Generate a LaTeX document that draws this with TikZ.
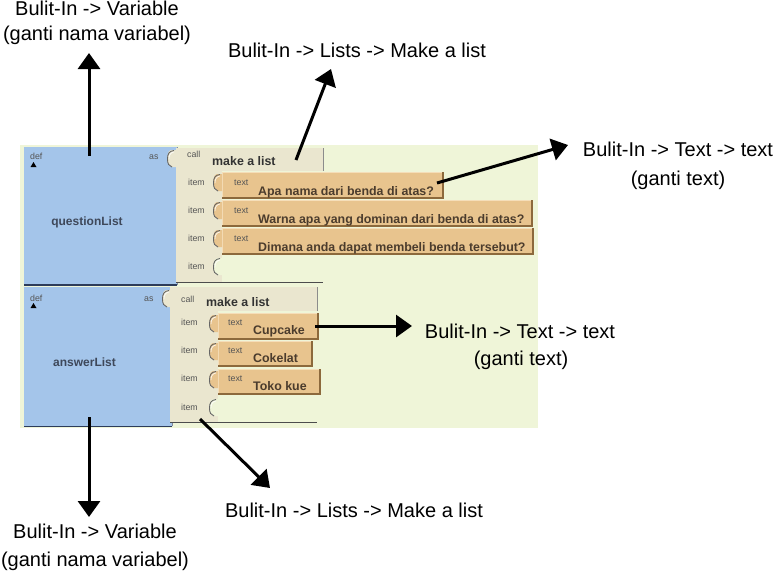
\documentclass[tikz,border=0pt]{standalone}
\usepackage{fontspec}
\setmainfont{Liberation Sans}
\usetikzlibrary{arrows.meta}
\definecolor{bgGreen}{RGB}{239,245,216}
\definecolor{blockBlue}{RGB}{164,197,234}
\definecolor{blueEdge}{RGB}{45,60,90}
\definecolor{beige}{RGB}{234,230,207}
\definecolor{tanFill}{RGB}{232,196,142}
\definecolor{tanEdge}{RGB}{140,105,60}
\definecolor{tanLight}{RGB}{245,222,185}
\definecolor{tanText}{RGB}{75,60,45}
\definecolor{blueText}{RGB}{62,72,90}
\definecolor{smallGray}{RGB}{85,85,85}
\newcommand\sockshape[3]{%
  \fill[#3] (#1+9,#2) -- (#1+4,#2) .. controls (#1+1,#2+1) and (#1+0.5,#2+4) .. (#1+0.5,#2+9)
     .. controls (#1+0.5,#2+14) and (#1+2,#2+16) .. (#1+5,#2+17) -- (#1+9,#2+17) -- cycle;
  \draw[black!60, line width=0.9pt] (#1+7,#2+0.5) .. controls (#1+2,#2+1) and (#1+0.5,#2+4) .. (#1+0.5,#2+9)
     .. controls (#1+0.5,#2+14) and (#1+2,#2+16) .. (#1+5,#2+17);
  \draw[white, line width=0.6pt] (#1+7,#2+2) .. controls (#1+3.5,#2+2.5) and (#1+2,#2+5) .. (#1+2,#2+9);
}
\newcommand\strbox[4]{%
  \fill[tanFill] (#1,#2) rectangle (#3,#4);
  \draw[tanLight, line width=0.8pt] (#1,#4) -- (#1,#2) -- (#3,#2);
  \draw[tanEdge, line width=1.3pt] (#1,#4) -- (#3,#4) -- (#3,#2);
}
\tikzset{
  lbl/.style={font=\fontsize{20}{24}\selectfont, anchor=base, inner sep=0pt},
  bigarrow/.style={line width=3pt, -{Triangle[length=16pt,width=22pt]}},
  small/.style={font=\fontsize{8.8}{10}\selectfont, text=smallGray, anchor=base west, inner sep=0pt},
  strtext/.style={font=\bfseries\fontsize{12.4}{14}\selectfont, text=tanText, anchor=base west, inner sep=0pt},
  calltext/.style={font=\bfseries\fontsize{12.4}{14}\selectfont, text=black!80, anchor=base west, inner sep=0pt},
  varname/.style={font=\bfseries\fontsize{12}{14}\selectfont, text=blueText, anchor=base, inner sep=0pt},
}
\begin{document}
\begin{tikzpicture}[x=1pt,y=-1pt]
\useasboundingbox (0,0) rectangle (776,570);
\fill[white] (0,0) rectangle (776,570);
% workspace background
\fill[bgGreen] (20,145) rectangle (538,428);

% ---------- block 1 ----------
\fill[blockBlue] (24,147) rectangle (177,285);
\draw[blueEdge!60, line width=1pt] (177,147) -- (177,285);
\draw[blueEdge, line width=1.5pt] (24,285) -- (177,285);
\fill[beige] (176,148) rectangle (323,171);
\fill[beige] (176,171) rectangle (222,282);
\draw[black!45, line width=1pt] (323,148) -- (323,171);
\draw[black!70, line width=1.3pt] (176,282.5) -- (323,282.5);
\sockshape{167}{150}{beige}
\fill (30.5,167) -- (36.5,167) -- (33.5,162) -- cycle;
\node[small] (def1) at (30,159) {def};
\node[small] (as1) at (149,159) {as};
\node[small] (call1) at (187,157) {call};
\node[calltext] (mk1) at (212,165) {make a list};
\node[varname] (qvar) at (87,225) {questionList};
\strbox{222}{172}{443}{198}
\strbox{222}{200}{532}{226}
\strbox{222}{228}{533}{254}
\sockshape{213}{174}{tanFill}
\sockshape{213}{202}{tanFill}
\sockshape{213}{230}{tanFill}
\sockshape{213}{258}{bgGreen}
\node[small] (it11) at (188,185) {item};
\node[small] (it12) at (188,213) {item};
\node[small] (it13) at (188,241) {item};
\node[small] (it14) at (188,269) {item};
\node[small] (tx11) at (234,185) {text};
\node[small] (tx12) at (234,213) {text};
\node[small] (tx13) at (234,241) {text};
\node[strtext] (s11) at (258,195) {Apa nama dari benda di atas?};
\node[strtext] (s12) at (258,223) {Warna apa yang dominan dari benda di atas?};
\node[strtext] (s13) at (258,251) {Dimana anda dapat membeli benda tersebut?};

% ---------- block 2 ----------
\fill[blockBlue] (24,287) rectangle (172,426);
\draw[blueEdge!60, line width=1pt] (172,287) -- (172,426);
\draw[blueEdge, line width=1.5pt] (24,426.5) -- (172,426.5);
\fill[beige] (170,287) rectangle (317,311);
\fill[beige] (170,311) rectangle (218,422);
\draw[black!45, line width=1pt] (317,287) -- (317,311);
\draw[black!70, line width=1.3pt] (170,422.5) -- (317,422.5);
\sockshape{162}{290}{beige}
\fill (30.5,308) -- (36.5,308) -- (33.5,303) -- cycle;
\node[small] (def2) at (30,301) {def};
\node[small] (as2) at (144,301) {as};
\node[small] (call2) at (181,302) {call};
\node[calltext] (mk2) at (206,306) {make a list};
\node[varname] (avar) at (84.5,366) {answerList};
\strbox{218}{313}{318}{339}
\strbox{218}{341}{312}{366}
\strbox{218}{369}{320}{394}
\sockshape{209}{315}{tanFill}
\sockshape{209}{343}{tanFill}
\sockshape{209}{371}{tanFill}
\sockshape{209}{399}{bgGreen}
\node[small] (it21) at (181,325) {item};
\node[small] (it22) at (181,353) {item};
\node[small] (it23) at (181,381) {item};
\node[small] (it24) at (181,410) {item};
\node[small] (tx21) at (228,325) {text};
\node[small] (tx22) at (228,353) {text};
\node[small] (tx23) at (228,381) {text};
\node[strtext] (s21) at (253,334) {Cupcake};
\node[strtext] (s22) at (253,362) {Cokelat};
\node[strtext] (s23) at (253,390) {Toko kue};

% ---------- labels ----------
\node[lbl] (L1a) at (97,16) {Bulit-In -> Variable};
\node[lbl] (L1b) at (97,40) {(ganti nama variabel)};
\node[lbl] (L2) at (357,57) {Bulit-In -> Lists -> Make a list};
\node[lbl] (L3a) at (678,156) {Bulit-In -> Text -> text};
\node[lbl] (L3b) at (678,185) {(ganti text)};
\node[lbl] (L4a) at (520,338) {Bulit-In -> Text -> text};
\node[lbl] (L4b) at (521,365) {(ganti text)};
\node[lbl] (L5) at (354,517) {Bulit-In -> Lists -> Make a list};
\node[lbl] (L6a) at (95,538) {Bulit-In -> Variable};
\node[lbl] (L6b) at (95,566) {(ganti nama variabel)};

% ---------- arrows ----------
\coordinate (a1s) at (89,156);  \coordinate (a1e) at (89,53);
\coordinate (a2s) at (296,160); \coordinate (a2e) at (331,69);
\coordinate (a3s) at (437,183); \coordinate (a3e) at (568,145);
\coordinate (a4s) at (315,326); \coordinate (a4e) at (412,326);
\coordinate (a5s) at (89,417);  \coordinate (a5e) at (89,517);
\coordinate (a6s) at (200,419); \coordinate (a6e) at (270,488);
\draw[bigarrow] (a1s) -- (a1e);
\draw[bigarrow] (a2s) -- (a2e);
\draw[bigarrow] (a3s) -- (a3e);
\draw[bigarrow] (a4s) -- (a4e);
\draw[bigarrow] (a5s) -- (a5e);
\draw[bigarrow] (a6s) -- (a6e);
\end{tikzpicture}
\end{document}
